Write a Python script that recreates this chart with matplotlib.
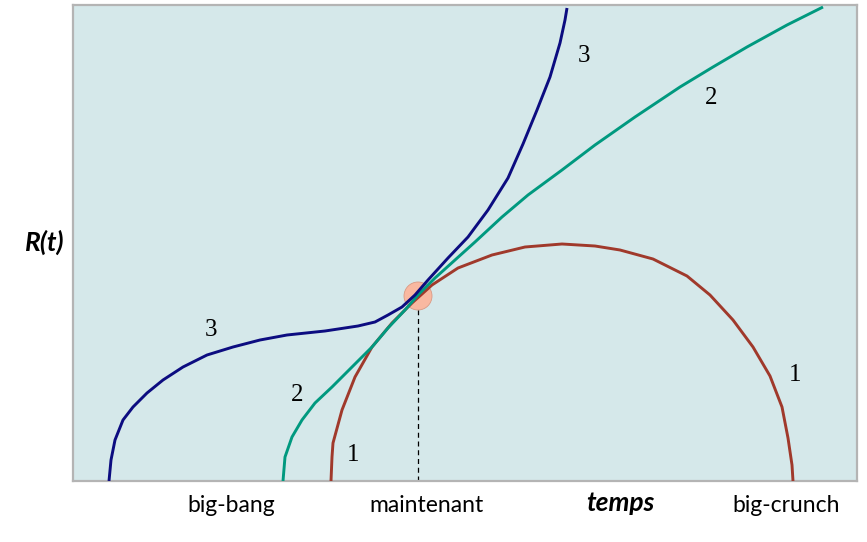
import matplotlib
matplotlib.use("Agg")
import matplotlib.pyplot as plt
from matplotlib.patches import Circle

# courbe 1 : univers fermé (big-bang -> big-crunch)
t1 = [258, 259, 260, 269, 282, 299, 319, 339, 359, 385, 419, 452, 489, 522, 547, 580,
      614, 637, 660, 680, 697, 709, 715, 719, 720]
r1 = [0, 24, 38, 71, 104, 134, 158, 178, 196, 213, 226, 234, 237, 235, 231, 222,
      205, 186, 161, 134, 105, 74, 43, 16, 0]

# courbe 2 : univers ouvert
t2 = [210, 212, 219, 229, 242, 259, 279, 299, 315, 332, 345, 362, 382, 402, 429, 455,
      489, 522, 562, 607, 640, 674, 714, 750]
r2 = [0, 24, 44, 61, 78, 94, 114, 134, 153, 171, 186, 203, 221, 239, 264, 286,
      311, 336, 364, 394, 414, 434, 456, 474]

# courbe 3 : univers en expansion accélérée
t3 = [36, 38, 42, 50, 60, 74, 90, 110, 134, 160, 187, 214, 252, 285, 302, 315, 329,
      342, 355, 375, 395, 415, 435, 450, 464, 477, 487, 492, 494]
r3 = [0, 21, 41, 61, 74, 88, 101, 114, 126, 134, 141, 146, 150, 155, 159, 166, 174,
      186, 201, 223, 244, 271, 303, 337, 371, 404, 438, 461, 473]

now_t, now_r = 345, 185

curve_labels = [("3", 138, 151), ("2", 224, 86), ("1", 280, 26),
                ("1", 722, 106), ("2", 638, 383), ("3", 511, 425)]
time_labels = [("big-bang", 158), ("maintenant", 354), ("big-crunch", 713)]

fig = plt.figure(figsize=(8.67, 5.42), dpi=100)
ax = fig.add_axes([73 / 867, 61 / 542, 784 / 867, 476 / 542])
ax.set_facecolor("#d5e8ea")
for spine in ax.spines.values():
    spine.set_color("#b4b4b4")
    spine.set_linewidth(1.6)
ax.set_xlim(0, 784)
ax.set_ylim(0, 476)
ax.set_xticks([])
ax.set_yticks([])

line_kw = dict(lw=2.1, solid_capstyle="butt", solid_joinstyle="round")
ax.plot(t1, r1, color="#a0392b", zorder=3, **line_kw)
ax.plot(t2, r2, color="#00997f", zorder=3, **line_kw)
ax.plot(t3, r3, color="#0c0c80", zorder=4, **line_kw)

ax.plot([now_t, now_t], [0, now_r], color="black", lw=0.9, ls=(0, (4, 3)), zorder=2)
ax.add_patch(Circle((now_t, now_r), 14, facecolor="#f9b8a0", edgecolor="#d99a85", lw=0.6, zorder=2))

for txt, x, y in curve_labels:
    ax.text(x, y, txt, fontsize=18, family="Liberation Serif", ha="center", va="center")

for txt, x in time_labels:
    ax.text(x, -25, txt, fontsize=16.5, family="Lato", ha="center", va="center", clip_on=False)
ax.text(547, -22, "temps", fontsize=19, family="Lato", weight="bold", style="italic",
        ha="center", va="center", clip_on=False)
ax.text(-28, 239, "R(t)", fontsize=19, family="Lato", weight="bold", style="italic",
        ha="center", va="center", clip_on=False)

fig.savefig("out.png", dpi=100, facecolor="white")
